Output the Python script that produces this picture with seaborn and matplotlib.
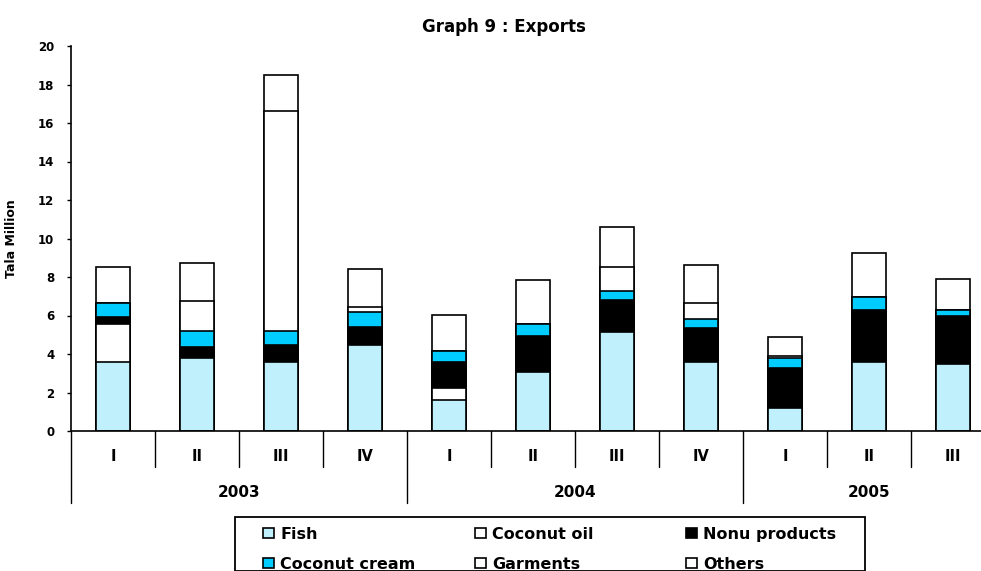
import numpy as np
import pandas as pd
import seaborn as sns
import matplotlib.pyplot as plt
from matplotlib.patches import Rectangle
from matplotlib.transforms import blended_transform_factory

# quarterly export values, Tala million
years = ["2003", "2004", "2005"]
quarters = ["I", "II", "III", "IV", "I", "II", "III", "IV", "I", "II", "III"]
year_of_bar = ["2003"] * 4 + ["2004"] * 4 + ["2005"] * 3

fish = [3.59, 3.77, 3.56, 4.48, 1.62, 3.06, 5.15, 3.58, 1.19, 3.58, 3.46]
coconut_oil = [1.97, 0.0, 0.0, 0.0, 0.59, 0.0, 0.0, 0.0, 0.0, 0.0, 0.0]
nonu = [0.38, 0.60, 0.92, 0.94, 1.36, 1.86, 1.65, 1.76, 2.08, 2.70, 2.50]
coconut_cream = [0.69, 0.80, 0.69, 0.76, 0.57, 0.66, 0.47, 0.47, 0.52, 0.69, 0.35]
garments = [0.0, 1.58, 11.44, 0.24, 0.0, 0.0, 1.25, 0.85, 0.13, 0.0, 0.0]
others = [1.87, 1.98, 1.90, 1.98, 1.89, 2.24, 2.09, 1.98, 0.97, 2.29, 1.60]

series_names = ["Fish", "Coconut oil", "Nonu products", "Coconut cream", "Garments", "Others"]
series_values = [fish, coconut_oil, nonu, coconut_cream, garments, others]
series_colors = ["#C0F0FC", "white", "black", "#00CCFF", "white", "white"]

sns.set_theme(style="white")
plt.rcParams["font.family"] = ["DejaVu Sans"]
plt.rcParams["font.weight"] = "bold"
for key in ["text.color", "axes.labelcolor", "xtick.color", "ytick.color"]:
    plt.rcParams[key] = "black"

W, H = 981, 571
fig = plt.figure(figsize=(W / 100, H / 100), dpi=100)
ax = fig.add_axes([71 / W, 140 / H, 924 / W, 385 / H])

df = pd.DataFrame({"period": [f"{y} {q}" for y, q in zip(year_of_bar, quarters)]})
cum = np.zeros(len(quarters))
for name, vals in zip(series_names, series_values):
    cum = cum + np.array(vals)
    df[name] = cum

# draw the stacks top-down so each layer overlaps the one above
for name, col in reversed(list(zip(series_names, series_colors))):
    sns.barplot(data=df, x="period", y=name, color=col, saturation=1,
                edgecolor="black", linewidth=1.2, width=0.4,
                errorbar=None, ax=ax)

ax.set_xlim(-0.5, len(quarters) - 0.5)
ax.set_ylim(0, 20)
ax.set_yticks(range(0, 21, 2))
ax.set_yticklabels([str(v) for v in range(0, 21, 2)], fontsize=8.5, fontweight="bold")
ax.tick_params(axis="y", direction="out", length=3, width=1, color="black", pad=9, left=True)
ax.tick_params(axis="x", bottom=False, labelbottom=False)
ax.set_xlabel("")
ax.set_ylabel("Tala Million", fontsize=9, fontweight="bold")
ax.yaxis.set_label_coords((18 - 71) / 924, 0.5)
for s in ["top", "right"]:
    ax.spines[s].set_visible(False)
for s in ["left", "bottom"]:
    ax.spines[s].set_color("black")
    ax.spines[s].set_linewidth(1.2)

# two-level category axis
tr = blended_transform_factory(ax.transData, ax.transAxes)
year_starts = [i for i in range(len(year_of_bar)) if i == 0 or year_of_bar[i] != year_of_bar[i - 1]]
for i in range(len(quarters) + 1):
    low = -0.187 if (i in year_starts or i == len(quarters)) else -0.0935
    ax.plot([i - 0.5, i - 0.5], [0, low], color="black", lw=1, transform=tr, clip_on=False)
for i, q in enumerate(quarters):
    ax.text(i, -0.0675, q, transform=tr, ha="center", va="center", fontsize=10.5, fontweight="bold")
for y in years:
    idx = [i for i, yy in enumerate(year_of_bar) if yy == y]
    ax.text((idx[0] + idx[-1]) / 2, -0.161, y, transform=tr, ha="center", va="center",
            fontsize=11, fontweight="bold")

fig.text(504 / W, 1 - 27 / H, "Graph 9 : Exports", ha="center", va="center",
         fontsize=12, fontweight="bold")

# legend box laid out on a 3-column grid
fig.add_artist(Rectangle((235 / W, 0), (865 - 235) / W, 1 - 517 / H, transform=fig.transFigure,
                         fill=False, edgecolor="black", linewidth=1.3))
col_x = [263, 475, 686]
row_y = [533, 563]
for k, (name, col) in enumerate(zip(series_names, series_colors)):
    r, c = divmod(k, 3)
    x0, y0 = col_x[c], row_y[r]
    fig.add_artist(Rectangle((x0 / W, 1 - (y0 + 5) / H), 11 / W, 10 / H, transform=fig.transFigure,
                             facecolor=col, edgecolor="black", linewidth=1.2))
    fig.text((x0 + 17) / W, 1 - y0 / H, name, ha="left", va="center_baseline",
             fontsize=11.5, fontweight="bold")

fig.savefig("out.png", dpi=100)
